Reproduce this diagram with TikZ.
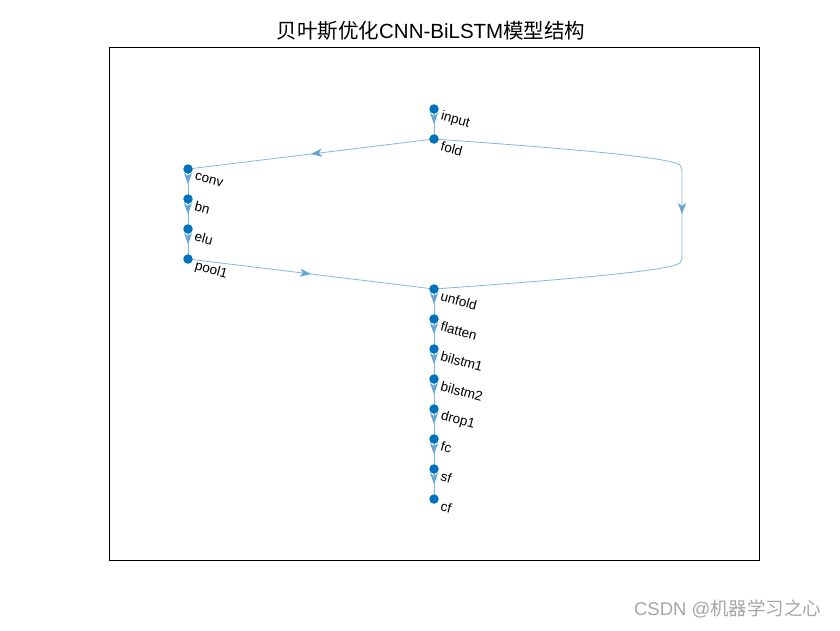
\documentclass[tikz,border=0pt]{standalone}
\usepackage{fontspec}
\setmainfont{Liberation Sans}
\newfontfamily\cjk{Noto Sans CJK SC}
\usetikzlibrary{decorations.markings,arrows.meta,calc}
\definecolor{nodecol}{RGB}{0,114,189}
\definecolor{edgecol}{RGB}{128,185,222}
\definecolor{arrcol}{RGB}{100,165,214}
\tikzset{
  lay/.style={circle,fill=nodecol,inner sep=0pt,minimum size=9.5pt},
  lab/.style={anchor=west,rotate=-15,inner sep=0pt,font=\fontsize{13.5}{14}\selectfont},
  edge/.style={draw=edgecol,line width=0.8pt,
    postaction={decorate,decoration={markings,mark=at position 0.5 with {\arrow[arrcol]{Stealth[length=11pt,width=8pt,inset=3pt]}}}}},
}
\begin{document}
\begin{tikzpicture}[x=1pt,y=-1pt]
\useasboundingbox (0,0) rectangle (840,630);
\fill[white] (0,0) rectangle (840,630);
\draw[line width=0.6pt] (109,47) rectangle (759,560);
\node (title) at (431,31) {\fontsize{20.5}{22}\selectfont{\cjk 贝叶斯优化}CNN-BiLSTM{\cjk 模型结构}};
\node[text=gray!70,anchor=east] (wm) at (825,609) {\fontsize{18.5}{19}\selectfont CSDN @{\cjk 机器学习之心}};
% layer nodes
\coordinate (pinput) at (434,109);
\coordinate (pfold) at (434,139);
\coordinate (pconv) at (188,169);
\coordinate (pbn) at (188,199);
\coordinate (pelu) at (188,229);
\coordinate (ppool1) at (188,259);
\coordinate (punfold) at (434,289);
\coordinate (pflatten) at (434,319);
\coordinate (pbilstm1) at (434,349);
\coordinate (pbilstm2) at (434,379);
\coordinate (pdrop1) at (434,409);
\coordinate (pfc) at (434,439);
\coordinate (psf) at (434,469);
\coordinate (pcf) at (434,499);
% edges
\path[edge] (pinput) -- (pfold);
\path[edge] (pfold) -- (pconv);
\path[edge] (pconv) -- (pbn);
\path[edge] (pbn) -- (pelu);
\path[edge] (pelu) -- (ppool1);
\path[edge] (ppool1) -- (punfold);
\path[edge] (pfold) .. controls (560,148) and (670,157) .. (680,165) .. controls (682,167) and (682,170) .. (682,175) -- (682,253) .. controls (682,258) and (682,261) .. (680,263) .. controls (670,271) and (560,280) .. (punfold);
\path[edge] (punfold) -- (pflatten);
\path[edge] (pflatten) -- (pbilstm1);
\path[edge] (pbilstm1) -- (pbilstm2);
\path[edge] (pbilstm2) -- (pdrop1);
\path[edge] (pdrop1) -- (pfc);
\path[edge] (pfc) -- (psf);
\path[edge] (psf) -- (pcf);
% nodes and labels
\foreach \n in {input,fold,conv,bn,elu,pool1,unfold,flatten,bilstm1,bilstm2,drop1,fc,sf,cf}{
  \node[lay] (\n) at (p\n) {};
  \node[lab] (l\n) at ($(p\n)+(7,7)$) {\n};
}
\end{tikzpicture}
\end{document}
